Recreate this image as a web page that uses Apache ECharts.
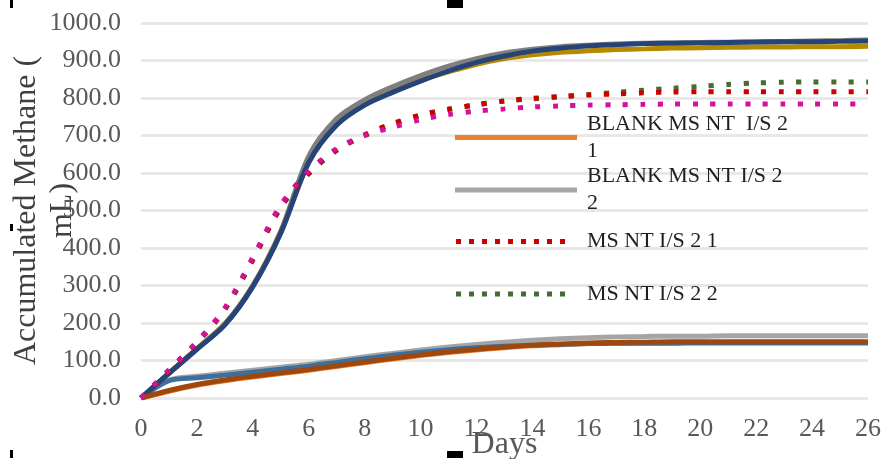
<!DOCTYPE html>
<html>
<head>
<meta charset="utf-8">
<script src="https://cdn.jsdelivr.net/npm/echarts@6/dist/echarts.min.js"></script>
<style>
html,body{margin:0;padding:0;background:#fff;}
#chart{width:881px;height:459px;}
</style>
</head>
<body>
<div id="chart"></div>
<script>
// ---- data ----
const days = [0,1,2,3,4,5,6,7,8,9,10,11,12,13,14,15,16,17,18,19,20,21,22,23,24,25,26];
const xTicks = [0,2,4,6,8,10,12,14,16,18,20,22,24,26];
const yTicks = [0,100,200,300,400,500,600,700,800,900,1000];

// legend-visible series
const blank1 = [0,18,34,46,56,65,74,84,94,104,113,121,128,134,139,142,145,146,147,148,148,148,148,148,148,148,148];
const blank2 = [0,48,58,66,74,82,90,100,110,119,128,136,143,149,154,158,161,163,164,165,165,166,166,166,166,166,166];
const msnt1  = [0,73,148,238,370,510,600,662,702,732,755,770,782,792,799,804,808,811,814,816,817,817,817,817,817,817,817];
const msnt2  = [0,72,146,236,368,508,598,660,700,730,753,770,782,792,798,803,809,815,821,826,831,836,840,842,843,843,843];
// further series (their legend entries are cut off in the original)
const upperGold = [0,66,132,198,300,445,640,740,790,820,848,870,890,905,915,922,926,929,931,933,934,935,936,936,937,937,938];
const lowerBlue = [0,46,54,61,69,77,85,95,105,114,122,129,134,138,141,143,145,146,146,146,147,147,147,147,147,147,147];
const upperGray = [0,66,131,197,299,443,645,745,795,830,860,885,905,920,930,937,941,944,946,947,948,949,950,951,952,953,955];
const upperBlue = [0,66,130,195,297,440,628,728,781,815,845,872,895,912,925,933,939,942,945,946,947,948,949,950,950,951,952];
const lowerBrown = [0,20,36,48,58,67,76,86,96,106,115,123,130,136,141,144,147,148,149,150,150,150,150,150,150,150,150];
const msnt3  = [0,75,150,240,375,515,605,665,700,722,742,756,765,771,776,779,781,782,783,784,784,784,784,784,784,784,784];

const seriesNames = ['BLANK MS NT I/S 2 1','BLANK MS NT I/S 2 2','MS NT I/S 2 1','MS NT I/S 2 2',
  'MS NT I/S 2 3','BLANK MS NT I/S 2 3','MS NT I/S 2 4','MS NT I/S 2 5','BLANK MS NT I/S 2 4','MS NT I/S 2 6'];
const legendLabels = ['BLANK MS NT  I/S 2\n1','BLANK MS NT I/S 2\n2','MS NT I/S 2 1','MS NT I/S 2 2'];

function pairs(arr){ return days.map((d,i)=>[d,arr[i]]); }

const SERIF = '"Liberation Serif","Times New Roman",serif';

function solid(name, data, color, z){
  return {name, type:'line', data:pairs(data), symbol:'none', smooth:0.3, z:z,
    lineStyle:{color, width:5, cap:'butt'}, itemStyle:{color}};
}
function dotted(name, data, color, z){
  return {name, type:'line', data:pairs(data), symbol:'none', smooth:0.3, z:z,
    lineStyle:{color, width:5, type:[5,12.5], cap:'butt'}, itemStyle:{color}};
}

const series = [
  solid(seriesNames[0], blank1, '#ED7D31', 2),
  solid(seriesNames[1], blank2, '#A5A5A5', 2),
  dotted(seriesNames[2], msnt1, '#CC0000', 4),
  dotted(seriesNames[3], msnt2, '#476B33', 3),
  solid(seriesNames[4], upperGold, '#B58A00', 2),
  solid(seriesNames[5], lowerBlue, '#3C6E9E', 2),
  solid(seriesNames[6], upperGray, '#7F7F7F', 2),
  solid(seriesNames[7], upperBlue, '#264478', 3),
  solid(seriesNames[8], lowerBrown, '#9E480E', 3),
  dotted(seriesNames[9], msnt3, '#D4119B', 5)
];

// legend icon for the dotted entries: a row of small squares
let dotPath = 'path://';
for (let k = 0; k < 9; k++) { dotPath += 'M' + (k*13) + ',0h5v5h-5z'; }

function legendFor(i, left, top, twoLine, dash){
  return {
    show:true, data:[seriesNames[i]], left:left, top:top, padding:0, orient:'vertical',
    itemWidth: dash ? 109 : 122, itemHeight:5, selectedMode:false,
    icon: dash ? dotPath : 'rect',
    formatter:()=>legendLabels[i],
    textStyle:{fontFamily:SERIF, fontSize:22, color:'#1f1f1f', lineHeight:27,
      padding: twoLine ? [27,0,0,5] : [0,0,0,17]}
  };
}

const chart = echarts.init(document.getElementById('chart'), null, {renderer:'canvas'});
chart.setOption({
  animation:false,
  backgroundColor:'#ffffff',
  grid:{left:141, right:13, top:23, bottom:61, containLabel:false, outerBoundsMode:'none'},
  legend:[
    legendFor(0, 455, 97, true, false),
    legendFor(1, 455, 149.5, true, false),
    legendFor(2, 456, 228, false, true),
    legendFor(3, 456, 280.5, false, true)
  ],
  xAxis:{
    type:'value', min:xTicks[0], max:xTicks[xTicks.length-1], interval:2,
    name:'Days', nameLocation:'middle', nameGap:31, nameMoveOverlap:false,
    nameTextStyle:{fontFamily:SERIF, fontSize:32, color:'#595959'},
    axisLine:{show:false}, axisTick:{show:false}, splitLine:{show:false},
    axisLabel:{fontFamily:SERIF, fontSize:26, color:'#595959', margin:18}
  },
  yAxis:{
    type:'value', min:yTicks[0], max:yTicks[yTicks.length-1], interval:100,
    name:'Accumulated Methane (\nmL)', nameLocation:'middle', nameRotate:90, nameGap:60,
    nameMoveOverlap:false,
    nameTextStyle:{fontFamily:SERIF, fontSize:32, color:'#404040', lineHeight:36},
    axisLine:{show:false}, axisTick:{show:false},
    splitLine:{show:true, lineStyle:{color:'#e8e8e8', width:3}},
    axisLabel:{fontFamily:SERIF, fontSize:26, color:'#595959', margin:20,
      formatter:v=>v.toFixed(1)}
  },
  graphic:[
    {type:'rect', shape:{x:10,y:0,width:3,height:8}, style:{fill:'#000'}},
    {type:'rect', shape:{x:447,y:0,width:16,height:8}, style:{fill:'#000'}},
    {type:'rect', shape:{x:10,y:224,width:3,height:7}, style:{fill:'#000'}},
    {type:'rect', shape:{x:10,y:450,width:3,height:8}, style:{fill:'#000'}},
    {type:'rect', shape:{x:447,y:451,width:16,height:7}, style:{fill:'#000'}}
  ],
  series:series
});
</script>
</body>
</html>
